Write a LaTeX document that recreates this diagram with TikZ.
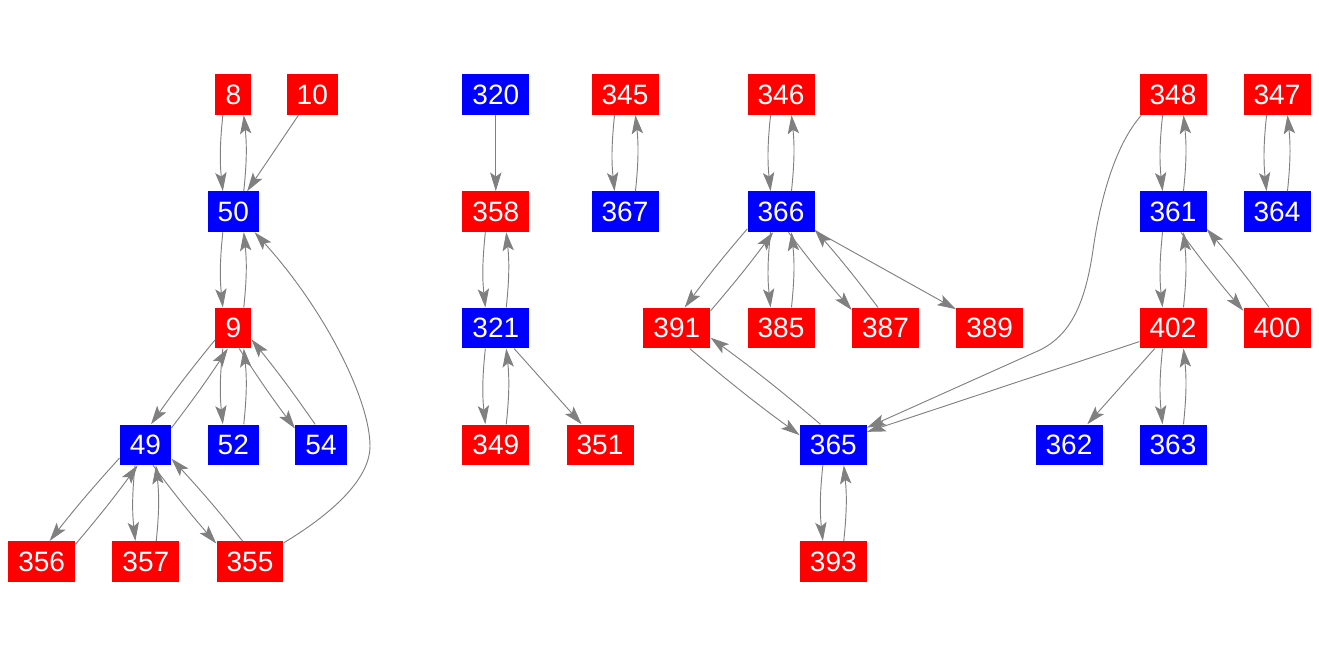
\documentclass[tikz,border=0pt]{standalone}
\usepackage{fontspec}
\setmainfont{Liberation Sans}
\usetikzlibrary{arrows.meta}
\tikzset{
    vtx/.style={rectangle, text=white, font=\fontsize{21pt}{21pt}\selectfont,
        inner xsep=7.6pt, inner ysep=0pt, minimum height=30.4pt},
    rv/.style={vtx, fill=red},
    bv/.style={vtx, fill=blue},
    link/.style={draw=gray, line width=0.7pt, -{Stealth[length=14pt, width=8.5pt, inset=3pt]}},
}
% two opposite links between #2 and #3, #4 = direction from #2 to #3
\newcommand{\twoway}[4][27]{%
    \pgfmathtruncatemacro{\twA}{mod(#4-#1+360,360)}
    \pgfmathtruncatemacro{\twB}{mod(#4+180+#1,360)}
    \pgfmathtruncatemacro{\twC}{mod(#4+180-#1,360)}
    \pgfmathtruncatemacro{\twD}{mod(#4+#1,360)}
    \pgfmathtruncatemacro{\twE}{(#1-18)*0.7}
    \draw[link] (#2.\twA) to[bend right=\twE] (#3.\twB);
    \draw[link] (#3.\twC) to[bend right=\twE] (#2.\twD);
}

\begin{document}
\begin{tikzpicture}[x=0.75pt, y=-0.75pt]
    \def \ra {94.7}
    \def \rb {211.7}
    \def \rc {328}
    \def \rd {444.8}
    \def \re {561.5}
    \useasboundingbox (0,0) rectangle (1319,656);

    \node[rv] (n8)   at (233.3,\ra) {8};
    \node[rv] (n10)  at (312.3,\ra) {10};
    \node[bv] (n50)  at (233.3,\rb) {50};
    \node[rv] (n9)   at (233.3,\rc) {9};
    \node[bv] (n49)  at (145.5,\rd) {49};
    \node[bv] (n52)  at (233.3,\rd) {52};
    \node[bv] (n54)  at (321,\rd) {54};
    \node[rv] (n356) at (41.7,\re) {356};
    \node[rv] (n357) at (145.8,\re) {357};
    \node[rv] (n355) at (250,\re) {355};

    \node[bv] (n320) at (495.8,\ra) {320};
    \node[rv] (n358) at (495.8,\rb) {358};
    \node[bv] (n321) at (495.8,\rc) {321};
    \node[rv] (n349) at (495.8,\rd) {349};
    \node[rv] (n351) at (600,\rd) {351};
    \node[rv] (n345) at (625,\ra) {345};
    \node[bv] (n367) at (625,\rb) {367};

    \node[rv] (n346) at (781,\ra) {346};
    \node[bv] (n366) at (781,\rb) {366};
    \node[rv] (n391) at (676.8,\rc) {391};
    \node[rv] (n385) at (781,\rc) {385};
    \node[rv] (n387) at (885.5,\rc) {387};
    \node[rv] (n389) at (989.7,\rc) {389};
    \node[bv] (n365) at (833.3,\rd) {365};
    \node[rv] (n393) at (833.3,\re) {393};

    \node[rv] (n348) at (1173,\ra) {348};
    \node[bv] (n361) at (1173,\rb) {361};
    \node[rv] (n402) at (1173,\rc) {402};
    \node[bv] (n362) at (1069,\rd) {362};
    \node[bv] (n363) at (1173,\rd) {363};
    \node[rv] (n400) at (1277,\rc) {400};
    \node[rv] (n347) at (1277,\ra) {347};
    \node[bv] (n364) at (1277,\rb) {364};

    % single links
    \draw[link] (n10) -- (n50);
    \draw[link] (n320) -- (n358);
    \draw[link] (n321) -- (n351);
    \draw[link] (n366) -- (n389);
    \draw[link] (n402) -- (n362);
    \draw[link] (n402.202) -- (n365.21);
    \draw[link] (n355.29) .. controls (330,515) and (370,480) .. (370,446)
        .. controls (370,400) and (325,310) .. (n50.316);
    \draw[link] (n348.213) .. controls (1115,145) and (1100,200) .. (1093,250)
        .. controls (1085,305) and (1070,335) .. (1040,350) -- (n365.27);

    % pairs
    \twoway{n8}{n50}{270}
    \twoway{n50}{n9}{270}
    \twoway[21]{n9}{n49}{234}
    \twoway{n9}{n52}{270}
    \twoway[21]{n9}{n54}{307}
    \twoway[21]{n49}{n356}{228}
    \twoway{n49}{n357}{270}
    \twoway[21]{n49}{n355}{311}
    \twoway{n358}{n321}{270}
    \twoway{n321}{n349}{270}
    \twoway{n345}{n367}{270}
    \twoway{n346}{n366}{270}
    \twoway[21]{n366}{n391}{228}
    \twoway{n366}{n385}{270}
    \twoway[21]{n366}{n387}{311}
    \twoway[21]{n391}{n365}{323}
    \twoway{n365}{n393}{270}
    \twoway{n348}{n361}{270}
    \twoway{n361}{n402}{270}
    \twoway[21]{n361}{n400}{312}
    \twoway{n402}{n363}{270}
    \twoway{n347}{n364}{270}
\end{tikzpicture}
\end{document}
